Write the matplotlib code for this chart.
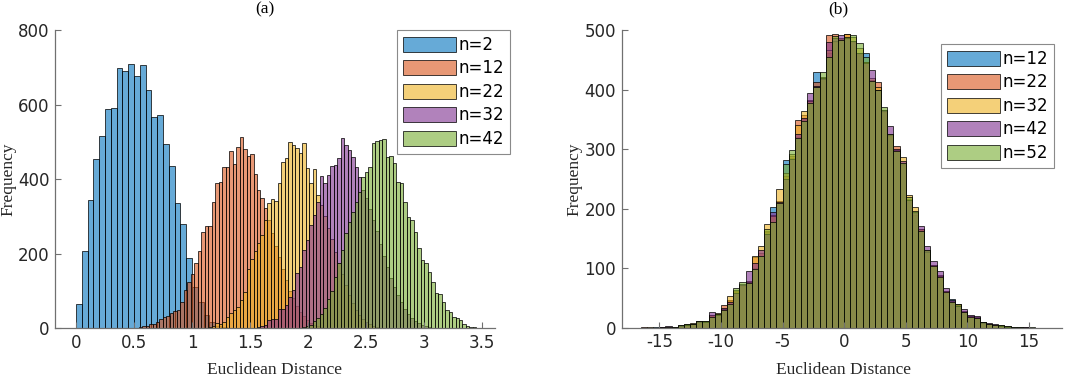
import numpy as np
import matplotlib
matplotlib.use("Agg")
import matplotlib.pyplot as plt
from matplotlib.colors import to_rgba

# ---- data: panel (a), histogram counts per bin ----
labels_a = ["n=2", "n=12", "n=22", "n=32", "n=42"]
start_a = [0.0, 0.51, 1.08, 1.50, 1.92]
width_a = [0.05, 0.03, 0.03, 0.03, 0.03]

counts_n2 = [65, 208, 344, 453, 516, 588, 590, 697, 691, 710, 676, 705, 640,
             566, 571, 494, 436, 337, 281, 189, 110, 70, 35, 17, 7, 3]
counts_n12 = [1, 3, 5, 7, 11, 12, 18, 24, 31, 33, 41, 46, 49, 71, 104, 125,
              146, 176, 208, 257, 275, 275, 340, 389, 392, 432, 432, 476, 440,
              487, 514, 480, 462, 468, 413, 372, 350, 323, 290, 255, 220, 190,
              160, 130, 100, 80, 60, 45, 32, 22, 15, 10, 6, 4, 2, 1]
counts_n22 = [1, 2, 4, 7, 13, 12, 18, 31, 40, 49, 58, 76, 98, 158, 185, 208,
              228, 250, 290, 335, 346, 341, 389, 447, 456, 500, 492, 483, 469,
              498, 429, 390, 426, 357, 330, 300, 270, 240, 205, 175, 145, 115,
              90, 68, 50, 36, 25, 17, 11, 7, 4, 2, 1]
counts_n32 = [1, 2, 3, 5, 8, 22, 24, 25, 51, 53, 62, 85, 103, 147, 165, 210,
              237, 277, 304, 340, 408, 389, 411, 435, 438, 456, 510, 492, 478,
              460, 433, 407, 370, 350, 320, 290, 260, 225, 195, 165, 135, 110,
              88, 70, 52, 38, 28, 20, 14, 9, 6, 4, 2, 1]
counts_n42 = [1, 3, 5, 10, 20, 28, 38, 55, 78, 100, 138, 174, 210, 255, 286,
              313, 340, 366, 405, 420, 432, 498, 503, 505, 507, 460, 462, 444,
              393, 390, 340, 299, 290, 259, 215, 183, 174, 152, 125, 94, 92,
              71, 48, 45, 30, 27, 22, 12, 6, 4, 3, 2, 1]
counts_a = [counts_n2, counts_n12, counts_n22, counts_n32, counts_n42]

# ---- data: panel (b), bins of width 0.5 starting at -17 ----
labels_b = ["n=12", "n=22", "n=32", "n=42", "n=52"]
start_b = -17.0
width_b = 0.5
counts_b12 = [0, 0, 0, 1, 0, 1, 1, 3, 5, 6, 10, 10, 20, 22, 30, 45, 60, 70, 76,
              100, 120, 160, 203, 210, 282, 285, 320, 350, 380, 430, 420, 462,
              480, 485, 485, 480, 460, 461, 415, 398, 362, 322, 296, 274, 214,
              190, 164, 128, 104, 86, 59, 48, 38, 27, 19, 17, 9, 6, 5, 3, 2, 1,
              1, 0, 0, 0]
counts_b22 = [0, 1, 0, 0, 1, 2, 1, 2, 6, 7, 11, 9, 22, 23, 38, 46, 62, 72, 78,
              118, 125, 162, 190, 213, 255, 288, 349, 358, 382, 412, 421, 491,
              493, 484, 493, 481, 462, 446, 416, 413, 365, 325, 306, 275, 216,
              193, 165, 130, 106, 88, 61, 44, 39, 28, 20, 18, 10, 7, 4, 3, 3, 2,
              0, 1, 0, 0]
counts_b32 = [0, 0, 1, 0, 1, 1, 0, 3, 4, 8, 10, 11, 21, 24, 31, 53, 63, 71, 77,
              120, 137, 175, 187, 233, 260, 292, 340, 364, 381, 405, 418, 466,
              482, 486, 493, 488, 470, 447, 420, 405, 364, 324, 298, 287, 223,
              202, 166, 127, 105, 87, 62, 45, 37, 26, 19, 16, 8, 6, 5, 4, 2, 1,
              1, 0, 0, 0]
counts_b42 = [0, 0, 0, 0, 1, 3, 1, 5, 5, 6, 11, 10, 26, 22, 33, 44, 58, 73, 96,
              108, 131, 158, 195, 211, 250, 284, 325, 352, 395, 406, 419, 480,
              487, 491, 486, 482, 461, 444, 432, 399, 366, 338, 300, 280, 215,
              194, 171, 137, 112, 95, 66, 46, 36, 32, 21, 19, 9, 8, 6, 3, 2, 1,
              1, 1, 0, 0]
counts_b52 = [0, 0, 0, 0, 0, 1, 1, 4, 7, 7, 12, 11, 18, 23, 29, 40, 66, 77, 75,
              98, 120, 165, 178, 209, 275, 298, 318, 348, 378, 404, 430, 455,
              490, 483, 488, 491, 479, 455, 414, 400, 371, 326, 297, 276, 219,
              196, 163, 131, 103, 85, 60, 43, 40, 27, 18, 17, 9, 7, 5, 4, 3, 2,
              1, 0, 1, 0]
counts_b = [counts_b12, counts_b22, counts_b32, counts_b42, counts_b52]

colors = ["#0072BD", "#D95319", "#EDB120", "#7E2F8E", "#77AC30"]
axis_col = "#707070"
text_col = "#262626"
serif = ["Liberation Serif", "DejaVu Serif"]

plt.rcParams["font.family"] = ["DejaVu Sans"]
plt.rcParams["axes.unicode_minus"] = False

fig = plt.figure(figsize=(10.7, 3.86), dpi=100)
ax1 = fig.add_axes([55 / 1070, 1 - 328.3 / 386, 440 / 1070, 298.3 / 386])
ax2 = fig.add_axes([621.7 / 1070, 1 - 327.7 / 386, 440 / 1070, 297.7 / 386])


def draw_hist(ax, starts, widths, counts, labels):
    for s, w, c, lab, col in zip(starts, widths, counts, labels, colors):
        left = s + w * np.arange(len(c))
        ax.bar(left, c, width=w, align="edge", label=lab,
               facecolor=to_rgba(col, 0.6), edgecolor=(0, 0, 0, 0.85),
               linewidth=0.6)


draw_hist(ax1, start_a, width_a, counts_a, labels_a)
draw_hist(ax2, [start_b] * 5, [width_b] * 5, counts_b, labels_b)

ax1.set_xlim(-0.18, 3.61)
ax1.set_ylim(0, 800)
ax1.set_xticks(np.arange(0, 3.51, 0.5))
ax1.set_xticklabels(["0", "0.5", "1", "1.5", "2", "2.5", "3", "3.5"])
ax1.set_yticks(np.arange(0, 801, 200))

ax2.set_xlim(-18.05, 17.65)
ax2.set_ylim(0, 500)
ax2.set_xticks(np.arange(-15, 16, 5))
ax2.set_yticks(np.arange(0, 501, 100))

for ax in (ax1, ax2):
    ax.spines["top"].set_visible(False)
    ax.spines["right"].set_visible(False)
    for sp in ("left", "bottom"):
        ax.spines[sp].set_color(axis_col)
        ax.spines[sp].set_linewidth(0.9)
    ax.tick_params(direction="in", length=4, width=0.8, color=axis_col,
                   labelsize=12, labelcolor=text_col, pad=4)

leg_kw = dict(fontsize=12, handlelength=3.2, handleheight=1.0,
              handletextpad=0.12, labelspacing=0.33, borderpad=0.35,
              borderaxespad=0, fancybox=False, framealpha=1,
              edgecolor="#8a8a8a", loc="upper left")
l1 = ax1.legend(bbox_to_anchor=(0.777, 1.0), **leg_kw)
l2 = ax2.legend(bbox_to_anchor=(0.7257, 0.953), **leg_kw)
for leg in (l1, l2):
    leg.get_frame().set_linewidth(0.8)

# axis labels and panel titles
fig.text(275 / 1070, 1 - 370 / 386, "Euclidean Distance", ha="center",
         va="center", family=serif, fontsize=12.5, color=text_col)
fig.text(843.5 / 1070, 1 - 370 / 386, "Euclidean Distance", ha="center",
         va="center", family=serif, fontsize=12.5, color=text_col)
fig.text(8 / 1070, 1 - 179 / 386, "Frequency", ha="center", va="center",
         rotation=90, family=serif, fontsize=12.5, color=text_col)
fig.text(574 / 1070, 1 - 179 / 386, "Frequency", ha="center", va="center",
         rotation=90, family=serif, fontsize=12.5, color=text_col)
fig.text(265 / 1070, 1 - 9 / 386, "(a)", ha="center", va="center",
         family=serif, fontsize=12.5, color="black")
fig.text(838 / 1070, 1 - 9 / 386, "(b)", ha="center", va="center",
         family=serif, fontsize=12.5, color="black")

plt.savefig("out.png", dpi=100)
